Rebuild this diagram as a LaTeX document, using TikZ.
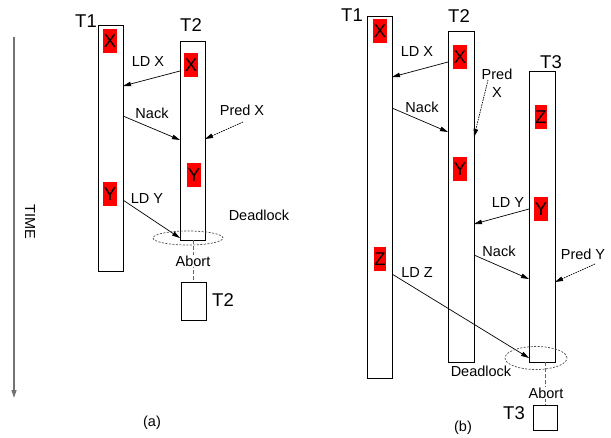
\documentclass[tikz,border=0pt]{standalone}
\usepackage{fontspec}
\setmainfont{Liberation Sans}
\usetikzlibrary{arrows.meta,shapes.geometric}
\begin{document}
\begin{tikzpicture}[x=1pt,y=-1pt,
  bar/.style={draw=black,fill=white,line width=0.8pt,minimum width=25pt,inner sep=0pt,outer sep=0pt},
  var/.style={fill=red,inner xsep=0.6pt,inner ysep=0pt,minimum height=24pt,font=\fontsize{18.5}{20}\selectfont},
  tlab/.style={font=\fontsize{18.5}{20}\selectfont,inner sep=0pt},
  lab/.style={font=\fontsize{14.5}{17}\selectfont,inner sep=0pt},
  msg/.style={draw=black,line width=0.7pt,-{Triangle[length=8pt,width=4.5pt]}},
  pred/.style={draw=black,line width=0.7pt,dash pattern=on 1.5pt off 1pt,-{Triangle[length=8pt,width=4.5pt]}},
  dl/.style={draw=black!70,line width=0.7pt,dash pattern=on 2pt off 1.5pt,ellipse,inner sep=0pt},
  abortline/.style={draw=black!60,line width=0.8pt,dash pattern=on 4pt off 2pt}
]
\useasboundingbox (0,0) rectangle (611,437);

% TIME axis
\coordinate (timetop) at (14,37);
\coordinate (timebot) at (14,398);
\draw[draw=black!55,line width=1.3pt,-{Triangle[length=8pt,width=5pt]}] (timetop) -- (timebot);
\node[lab,rotate=-90] (time) at (30,222) {TIME};

% ---------------- panel (a)
\node[bar,minimum height=246pt] (t1a) at (110.5,148) {};
\node[bar,minimum height=199pt] (t2a) at (192.5,140.5) {};
\node[bar,minimum height=38pt] (box2a) at (193.5,301) {};
\node[tlab] (l1a) at (86,21) {T1};
\node[tlab] (l2a) at (191,25) {T2};
\node[tlab] (lb2a) at (223,300) {T2};

\node[var] (xa1) at (110,41) {X};
\node[var] (xa2) at (191,65) {X};
\node[var] (ya2) at (194,175) {Y};
\node[var] (ya1) at (110,194) {Y};

\draw[msg] (t2a.west |- 0,71) -- (t1a.east |- 0,86);
\draw[msg] (t1a.east |- 0,116) -- (t2a.west |- 0,140);
\coordinate (pxa) at (243,122);
\draw[pred] (pxa) -- (t2a.east |- 0,139);
\draw[msg] (t1a.east |- 0,200) -- (t2a.west |- 0,238);
\node[dl,minimum width=70pt,minimum height=14pt] (dla) at (188,238) {};
\draw[abortline] (box2a.north |- t2a.south) -- (box2a.north);
\node[lab,fill=white,inner sep=1pt] (aba) at (193,261) {Abort};

\node[lab] at (148,62) {LD X};
\node[lab] at (152,113) {Nack};
\node[lab] at (242,110) {Pred X};
\node[lab] at (147,199) {LD Y};
\node[lab] at (259,215) {Deadlock};
\node[lab] (capa) at (152,423) {(a)};

% ---------------- panel (b)
\node[bar,minimum height=362pt] (t1b) at (379.5,197) {};
\node[bar,minimum width=26pt,minimum height=331pt] (t2b) at (461,196.5) {};
\node[bar,minimum width=26pt,minimum height=291pt] (t3b) at (542,216.5) {};
\node[bar,minimum width=24pt,minimum height=25pt] (box3b) at (545,417.5) {};
\node[tlab] (l1b) at (352,15) {T1};
\node[tlab] (l2b) at (459,16) {T2};
\node[tlab] (l3b) at (551,62) {T3};
\node[tlab] (lb3b) at (514,413) {T3};

\node[var] (xb1) at (380,31) {X};
\node[var] (xb2) at (460,57) {X};
\node[var] (yb2) at (460,169) {Y};
\node[var] (zb3) at (541,117) {Z};
\node[var] (yb3) at (541,209) {Y};
\node[var] (zb1) at (380,259) {Z};

\draw[msg] (t2b.west |- 0,62) -- (t1b.east |- 0,77);
\draw[msg] (t1b.east |- 0,108) -- (t2b.west |- 0,132);
\coordinate (pxb) at (488,80);
\draw[pred] (pxb) -- (t2b.east |- 0,137);
\draw[msg] (t3b.west |- 0,209) -- (t2b.east |- 0,224);
\draw[msg] (t2b.east |- 0,255) -- (t3b.west |- 0,279);
\coordinate (pyb) at (595,264);
\draw[pred] (pyb) -- (t3b.east |- 0,282);
\draw[msg] (t1b.east |- 0,274) -- (t3b.west |- 0,358);
\node[dl,minimum width=62pt,minimum height=23pt] (dlb) at (536,358) {};
\draw[abortline] (box3b.north |- t3b.south) -- (box3b.north);
\node[lab,fill=white,inner sep=1pt] (abb) at (546,393) {Abort};

\node[lab] at (417,52) {LD X};
\node[lab] at (422,107) {Nack};
\node[lab,align=center] at (497,83) {Pred\\[1pt]X};
\node[lab] at (508,203) {LD Y};
\node[lab] at (499,251) {Nack};
\node[lab] at (583,254) {Pred Y};
\node[lab] at (417,273) {LD Z};
\node[lab] at (481,371) {Deadlock};
\node[lab] (capb) at (463,428) {(b)};
\end{tikzpicture}
\end{document}
